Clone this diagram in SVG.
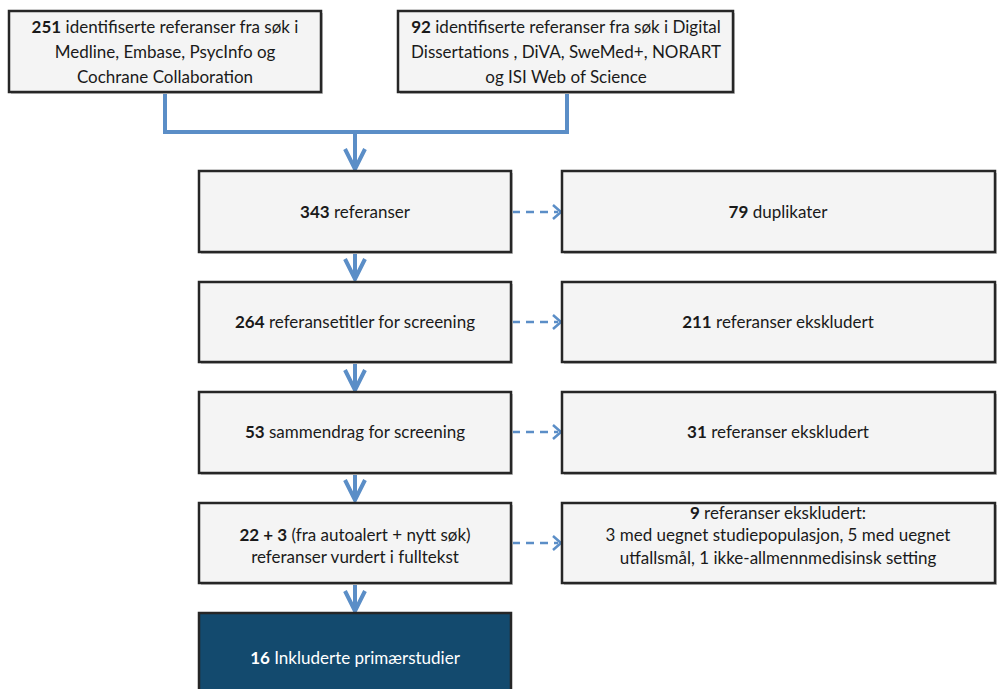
<svg xmlns="http://www.w3.org/2000/svg" width="999" height="689" viewBox="0 0 999 689">
<defs>
<style>
.box{fill:#f4f4f4;stroke:#262626;stroke-width:2.5}
.dark{fill:#134a6e;stroke:#262626;stroke-width:2.5}
.sh{fill:#c4c4c4}
text{font-family:Lato,"Liberation Sans",sans-serif;font-size:17px;fill:#1a1a1a;text-anchor:middle}
.w{fill:#ffffff}
.b{font-weight:bold}
.con{fill:none;stroke:#5b8ec7;stroke-width:4}
.dash{fill:none;stroke:#5b8ec7;stroke-width:2.5;stroke-dasharray:8 6}
.head{fill:none;stroke:#5b8ec7;stroke-width:4;stroke-linejoin:miter}
.dhead{fill:none;stroke:#5b8ec7;stroke-width:2.5}
</style>
</defs>
<rect width="999" height="689" fill="#ffffff"/>
<g id="connectors">
<path class="con" d="M165 92 V132 H567 V92"/>
<path class="con" d="M355 132 V168"/>
<path class="head" d="M345 149 L355 169 L365 149"/>
<path class="con" d="M355 252 V278"/>
<path class="head" d="M345 259 L355 279 L365 259"/>
<path class="con" d="M355 362 V389"/>
<path class="head" d="M345 370 L355 390 L365 370"/>
<path class="con" d="M355 473 V499"/>
<path class="head" d="M345 480 L355 500 L365 480"/>
<path class="con" d="M355 583 V610"/>
<path class="head" d="M345 591 L355 611 L365 591"/>
<path class="dash" d="M512 212 H558"/>
<path class="dhead" d="M553 205 L561 212 L553 219"/>
<path class="dash" d="M512 322 H558"/>
<path class="dhead" d="M553 315 L561 322 L553 329"/>
<path class="dash" d="M512 432 H558"/>
<path class="dhead" d="M553 425 L561 432 L553 439"/>
<path class="dash" d="M512 543 H558"/>
<path class="dhead" d="M553 536 L561 543 L553 550"/>
</g>
<g id="n1">
<rect class="sh" x="11" y="13" width="312" height="81"/>
<rect class="box" x="9" y="11" width="312" height="81"/>
<text x="165" y="33"><tspan class="b">251</tspan> identifiserte referanser fra søk i</text>
<text x="165" y="58">Medline, Embase, PsycInfo og</text>
<text x="165" y="83">Cochrane Collaboration</text>
</g>
<g id="n2">
<rect class="sh" x="400" y="13" width="335" height="81"/>
<rect class="box" x="398" y="11" width="335" height="81"/>
<text x="566" y="33"><tspan class="b">92</tspan> identifiserte referanser fra søk i Digital</text>
<text x="566" y="58">Dissertations , DiVA, SweMed+, NORART</text>
<text x="566" y="83">og ISI Web of Science</text>
</g>
<g id="n3">
<rect class="sh" x="201" y="173" width="312" height="81"/>
<rect class="box" x="199" y="171" width="312" height="81"/>
<text x="355" y="218"><tspan class="b">343</tspan> referanser</text>
</g>
<g id="n4">
<rect class="sh" x="564" y="173" width="433" height="81"/>
<rect class="box" x="562" y="171" width="433" height="81"/>
<text x="778" y="218"><tspan class="b">79</tspan> duplikater</text>
</g>
<g id="n5">
<rect class="sh" x="201" y="284" width="312" height="80"/>
<rect class="box" x="199" y="282" width="312" height="80"/>
<text x="355" y="328"><tspan class="b">264</tspan> referansetitler for screening</text>
</g>
<g id="n6">
<rect class="sh" x="564" y="284" width="433" height="80"/>
<rect class="box" x="562" y="282" width="433" height="80"/>
<text x="778" y="328"><tspan class="b">211</tspan> referanser ekskludert</text>
</g>
<g id="n7">
<rect class="sh" x="201" y="394" width="312" height="81"/>
<rect class="box" x="199" y="392" width="312" height="81"/>
<text x="355" y="438"><tspan class="b">53</tspan> sammendrag for screening</text>
</g>
<g id="n8">
<rect class="sh" x="564" y="394" width="433" height="81"/>
<rect class="box" x="562" y="392" width="433" height="81"/>
<text x="778" y="438"><tspan class="b">31</tspan> referanser ekskludert</text>
</g>
<g id="n9">
<rect class="sh" x="201" y="505" width="312" height="80"/>
<rect class="box" x="199" y="503" width="312" height="80"/>
<text x="355" y="541"><tspan class="b">22 + 3</tspan> (fra autoalert + nytt søk)</text>
<text x="355" y="563">referanser vurdert i fulltekst</text>
</g>
<g id="n10">
<rect class="sh" x="564" y="505" width="433" height="80"/>
<rect class="box" x="562" y="503" width="433" height="80"/>
<text x="778" y="519"><tspan class="b">9</tspan> referanser ekskludert:</text>
<text x="778" y="541">3 med uegnet studiepopulasjon, 5 med uegnet</text>
<text x="778" y="564">utfallsmål, 1 ikke-allmennmedisinsk setting</text>
</g>
<g id="n11">
<rect class="dark" x="199" y="613" width="312" height="90"/>
<text class="w" x="355" y="664"><tspan class="b">16</tspan> Inkluderte primærstudier</text>
</g>
</svg>
